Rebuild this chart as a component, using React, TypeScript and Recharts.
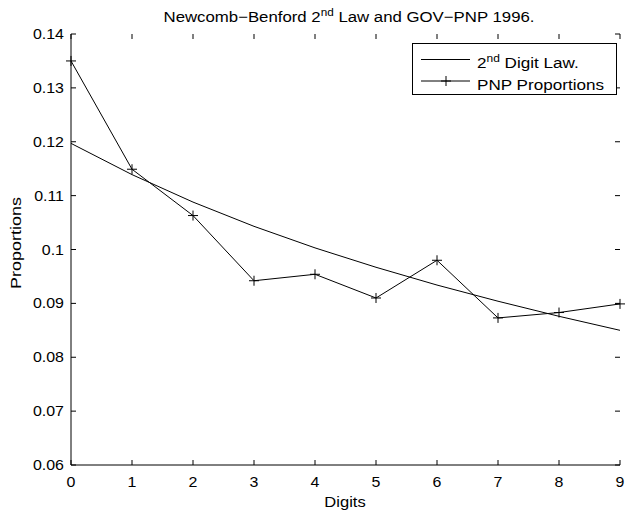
import React from 'react';
import { LineChart, Line, XAxis, YAxis, Legend } from 'recharts';

const DIGITS = [0, 1, 2, 3, 4, 5, 6, 7, 8, 9];
const BENFORD_2ND = [0.1197, 0.1139, 0.1088, 0.1043, 0.1003, 0.0967, 0.0934, 0.0904, 0.0876, 0.085];
const PNP = [0.135, 0.1149, 0.1063, 0.0942, 0.0954, 0.091, 0.098, 0.0873, 0.0883, 0.0899];
const Y_TICKS = [0.06, 0.07, 0.08, 0.09, 0.1, 0.11, 0.12, 0.13, 0.14];

const data = DIGITS.map((d, i) => ({ digit: d, law: BENFORD_2ND[i], pnp: PNP[i] }));

const FONT = '"Liberation Sans", Arial, Helvetica, sans-serif';
const W = 627;
const H = 510;
const PLOT_LEFT = 71;
const PLOT_RIGHT = 620;
const PLOT_TOP = 34;
const PLOT_BOTTOM = 465;
const TICK = 5;
const SX = 1.14; // the source text runs a bit wider than Liberation Sans

const fmt = (v: number) => String(Number(v.toFixed(2)));

// text stretched along its own direction
const T = ({ x, y, size, sx = SX, anchor = 'start', rotate = false, children }: any) => (
  <text
    transform={`translate(${x},${y})${rotate ? ' rotate(-90)' : ''} scale(${sx},1)`}
    x={0}
    y={0}
    textAnchor={anchor}
    fontSize={size}
    fontFamily={FONT}
    fill="#000"
  >
    {children}
  </text>
);

const XTick = (props: any) => {
  const { x, payload } = props;
  return (
    <g>
      <line x1={x} x2={x} y1={PLOT_BOTTOM} y2={PLOT_BOTTOM - TICK} stroke="#000" />
      <line x1={x} x2={x} y1={PLOT_TOP} y2={PLOT_TOP + TICK} stroke="#000" />
      <T x={x} y={PLOT_BOTTOM + 22} size={14} anchor="middle">
        {payload.value}
      </T>
    </g>
  );
};

const YTick = (props: any) => {
  const { y, payload } = props;
  return (
    <g>
      <line x1={PLOT_LEFT} x2={PLOT_LEFT + TICK} y1={y} y2={y} stroke="#000" />
      <line x1={PLOT_RIGHT - TICK} x2={PLOT_RIGHT} y1={y} y2={y} stroke="#000" />
      <T x={PLOT_LEFT - 7} y={y + 5} size={14} anchor="end">
        {fmt(payload.value)}
      </T>
    </g>
  );
};

const PlusDot = (props: any) => {
  const { cx, cy, index } = props;
  return (
    <path
      key={`p-${index}`}
      d={`M${cx - 5},${cy}H${cx + 5}M${cx},${cy - 5}V${cy + 5}`}
      stroke="#000"
      strokeWidth={1}
      fill="none"
    />
  );
};

const LegendBox = () => (
  <svg width={205} height={52} style={{ display: 'block' }}>
    <rect x={0.5} y={0.5} width={204} height={51} fill="#fff" stroke="#000" />
    <line x1={9} x2={58} y1={16.5} y2={16.5} stroke="#000" />
    <T x={65} y={24.5} size={15}>
      2<tspan dy={-6} fontSize={10.5}>nd</tspan>
      <tspan dy={6}> Digit Law.</tspan>
    </T>
    <line x1={9} x2={58} y1={38} y2={38} stroke="#000" />
    <path d="M29,38H39M34,33V43" stroke="#000" />
    <T x={65} y={46.5} size={15}>
      PNP Proportions
    </T>
  </svg>
);

export default function App() {
  return (
    <div style={{ position: 'absolute', left: 0, top: 0, width: W, height: H, background: '#fff' }}>
      <svg width={W} height={30} style={{ position: 'absolute', left: 0, top: 0 }}>
        <T x={349} y={21.5} size={15} sx={1.12} anchor="middle">
          Newcomb−Benford 2<tspan dy={-6} fontSize={10.5}>nd</tspan>
          <tspan dy={6}> Law and GOV−PNP 1996.</tspan>
        </T>
      </svg>
      <LineChart
        width={W}
        height={H}
        data={data}
        margin={{ top: PLOT_TOP, right: W - PLOT_RIGHT, bottom: 0, left: 0 }}
        style={{ position: 'absolute', left: 0, top: 0 }}
      >
        <XAxis
          dataKey="digit"
          type="number"
          domain={[0, 9]}
          ticks={DIGITS}
          interval={0}
          height={H - PLOT_BOTTOM}
          tickLine={false}
          tickSize={0}
          axisLine={{ stroke: '#000' }}
          tick={<XTick />}
          label={{
            content: () => (
              <T x={345} y={507} size={14.5} anchor="middle">
                Digits
              </T>
            ),
          }}
        />
        <XAxis xAxisId="top" orientation="top" type="number" domain={[0, 9]} height={0} tick={false} tickLine={false} axisLine={{ stroke: '#000' }} />
        <YAxis
          type="number"
          domain={[0.06, 0.14]}
          ticks={Y_TICKS}
          interval={0}
          width={PLOT_LEFT}
          tickLine={false}
          tickSize={0}
          axisLine={{ stroke: '#000' }}
          tick={<YTick />}
          label={{
            content: () => (
              <T x={21} y={243} size={15} sx={1.2} anchor="middle" rotate>
                Proportions
              </T>
            ),
          }}
        />
        <YAxis yAxisId="right" orientation="right" type="number" domain={[0.06, 0.14]} width={0} tick={false} tickLine={false} axisLine={{ stroke: '#000' }} />
        <Line dataKey="law" name="2nd Digit Law." stroke="#000" strokeWidth={1} dot={false} isAnimationActive={false} />
        <Line dataKey="pnp" name="PNP Proportions" stroke="#000" strokeWidth={1} dot={<PlusDot />} isAnimationActive={false} />
        <Legend
          layout="horizontal"
          verticalAlign="middle"
          align="center"
          content={<LegendBox />}
          wrapperStyle={{ position: 'absolute', left: 412, top: 43, width: 205, height: 52 }}
        />
      </LineChart>
    </div>
  );
}
